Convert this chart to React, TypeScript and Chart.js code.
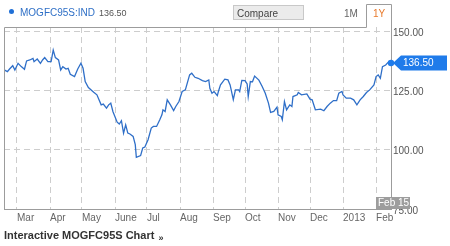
import React, { useEffect, useRef } from "react";
import { Chart, registerables } from "chart.js";

Chart.register(...registerables);

// days since 2012-02-15
const dayOffsets = [
  3, 6, 8, 11, 13, 16, 19, 22, 24, 27, 30, 31, 34, 37, 39, 41, 44, 47, 49, 51,
  54, 56, 58, 61, 63, 65, 69, 72, 75, 77, 79, 82, 87, 90, 94, 96, 99, 101, 103, 105,
  109, 111, 113, 115, 117, 119, 121, 124, 126, 127, 131, 133, 135, 138, 141, 143, 146, 149, 151, 152,
  154, 156, 159, 162, 164, 167, 170, 173, 177, 179, 182, 185, 189, 192, 195, 196, 198, 200, 203, 204,
  206, 210, 213, 215, 218, 220, 223, 224, 226, 229, 231, 232, 234, 236, 238, 242, 245, 248, 251, 253,
  256, 259, 260, 263, 264, 266, 268, 271, 273, 274, 278, 279, 282, 287, 290, 292, 295, 300, 303, 306,
  309, 312, 315, 317, 320, 321, 324, 328, 331, 334, 337, 340, 343, 346, 350, 352, 354, 356, 358, 361,
  364, 366,
];

const values = [
  133.6, 132.9, 134.0, 135.4, 133.6, 136.4, 135.0, 133.9, 137.4, 137.8,
  138.5, 137.1, 138.2, 136.4, 137.8, 138.8, 137.1, 137.1, 142.0, 138.8,
  137.8, 133.6, 135.0, 134.0, 134.3, 131.8, 130.8, 134.0, 136.4, 134.3,
  128.7, 126.2, 124.2, 123.1, 118.9, 119.2, 117.5, 118.9, 119.6, 116.1,
  111.6, 110.8, 112.2, 107.0, 110.5, 107.0, 106.6, 105.6, 102.1, 96.8,
  97.5, 100.7, 101.1, 104.2, 109.1, 109.8, 109.8, 112.6, 114.7, 116.8,
  116.1, 121.0, 118.9, 116.5, 118.2, 120.3, 124.5, 125.2, 131.5, 132.2,
  130.5, 130.1, 129.1, 128.7, 129.4, 125.9, 123.8, 124.5, 122.8, 124.5,
  127.3, 129.7, 129.4, 127.3, 121.1, 125.2, 125.2, 124.5, 129.2, 129.1,
  127.7, 122.4, 128.7, 128.6, 131.0, 129.3, 126.7, 123.8, 119.6, 115.7,
  116.1, 117.9, 114.7, 114.0, 112.6, 120.3, 116.8, 118.9, 118.2, 122.4,
  123.1, 124.1, 123.1, 123.5, 121.3, 121.0, 116.8, 117.1, 116.4, 118.2,
  119.6, 120.7, 120.7, 123.8, 124.5, 123.1, 121.7, 121.7, 121.0, 118.9,
  121.0, 122.4, 124.1, 125.2, 127.3, 130.8, 131.5, 130.1, 135.0, 135.7,
  137.1, 136.5,
];

const monthTickDays = [15, 46, 76, 107, 137, 168, 199, 229, 260, 290, 321, 352];
const monthTickLabels = ["Mar", "Apr", "May", "June", "Jul", "Aug", "Sep", "Oct", "Nov", "Dec", "2013", "Feb"];
const yTickValues = [75, 100, 125, 150];

const tickerName = "MOGFC95S:IND";
const lastValueText = "136.50";
const lastDateText = "Feb 15";
const footerText = "Interactive MOGFC95S Chart";

const FONT = "Arial, 'Liberation Sans', sans-serif";
const LINE_COLOR = "#2f6fc8";
const MARK_COLOR = "#1f7bea";
const GRID_COLOR = "#cdcdcd";
const FRAME_COLOR = "#9c9c9c";

const overlayPlugin = {
  id: "overlay",
  afterDraw(chart: any) {
    const { ctx, chartArea } = chart;
    const { left, top, right, bottom } = chartArea;
    const xs = chart.scales.x;
    const ys = chart.scales.y;
    ctx.save();
    // frame with 1Y tab
    ctx.strokeStyle = FRAME_COLOR;
    ctx.lineWidth = 1;
    ctx.beginPath();
    ctx.moveTo(left + 0.5, bottom);
    ctx.lineTo(left + 0.5, top + 0.5);
    ctx.lineTo(366.5, top + 0.5);
    ctx.lineTo(366.5, 4.5);
    ctx.lineTo(right + 0.5, 4.5);
    ctx.lineTo(right + 0.5, top);
    ctx.stroke();

    // last value arrow label
    const n = values.length;
    const py = ys.getPixelForValue(values[n - 1]);
    const ax = right + 2;
    ctx.fillStyle = MARK_COLOR;
    ctx.beginPath();
    ctx.moveTo(ax, py);
    ctx.lineTo(ax + 8, py - 7.5);
    ctx.lineTo(447, py - 7.5);
    ctx.lineTo(447, py + 7.5);
    ctx.lineTo(ax + 8, py + 7.5);
    ctx.closePath();
    ctx.fill();
    ctx.fillStyle = "#ffffff";
    ctx.font = `10px ${FONT}`;
    ctx.textBaseline = "middle";
    ctx.textAlign = "left";
    ctx.fillText(lastValueText, ax + 10, py + 0.5);

    // last date box
    const px = xs.getPixelForValue(dayOffsets[n - 1]);
    ctx.fillStyle = "#9d9d9d";
    ctx.fillRect(px - 15, bottom - 12, 34, 12);
    ctx.fillStyle = "#ffffff";
    ctx.fillText(lastDateText, px - 13, bottom - 5.5);
    ctx.restore();
  },
};

export default function App() {
  const canvasRef = useRef<HTMLCanvasElement | null>(null);

  useEffect(() => {
    const canvas = canvasRef.current;
    if (!canvas) return;
    const n = values.length;
    const chart = new Chart(canvas, {
      type: "line",
      data: {
        datasets: [
          {
            data: dayOffsets.map((d, i) => ({ x: d, y: values[i] })),
            borderColor: LINE_COLOR,
            borderWidth: 1.3,
            pointRadius: (c: any) => (c.dataIndex === n - 1 ? 3.2 : 0),
            pointBackgroundColor: MARK_COLOR,
            pointBorderWidth: 0,
            tension: 0,
            fill: false,
            clip: false as any,
          },
        ],
      },
      options: {
        animation: false,
        responsive: false,
        maintainAspectRatio: false,
        events: [],
        layout: { padding: { left: 4, top: 27, right: 0, bottom: 0 } },
        plugins: { legend: { display: false }, tooltip: { enabled: false } },
        scales: {
          x: {
            type: "linear",
            min: 2.8,
            max: 366,
            afterBuildTicks: (s: any) => {
              s.ticks = monthTickDays.map((v) => ({ value: v }));
            },
            afterFit: (s: any) => {
              s.height = 37;
            },
            ticks: {
              align: "start",
              padding: 3,
              autoSkip: false,
              maxRotation: 0,
              color: "#666666",
              font: { family: FONT, size: 10 },
              callback: (_v: any, i: number) => monthTickLabels[i],
            },
            grid: { color: GRID_COLOR, lineWidth: 1, drawTicks: false },
            border: { display: true, color: FRAME_COLOR, dash: [6, 4] },
          },
          y: {
            type: "linear",
            position: "right",
            min: 75,
            max: 151.7,
            afterBuildTicks: (s: any) => {
              s.ticks = yTickValues.map((v) => ({ value: v }));
            },
            afterFit: (s: any) => {
              s.width = 59;
            },
            ticks: {
              padding: 2,
              labelOffset: 2,
              color: "#555555",
              font: { family: FONT, size: 10 },
              callback: (v: any) => Number(v).toFixed(2),
            },
            grid: { color: GRID_COLOR, lineWidth: 1, drawTicks: false },
            border: { display: true, color: FRAME_COLOR, dash: [6, 4] },
          },
        },
      } as any,
      plugins: [overlayPlugin],
    });
    return () => chart.destroy();
  }, []);

  const text: React.CSSProperties = {
    position: "absolute",
    fontFamily: FONT,
    fontSize: 10,
    lineHeight: "12px",
    whiteSpace: "nowrap",
  };

  return (
    <div
      style={{
        position: "fixed",
        left: 0,
        top: 0,
        width: 450,
        height: 246,
        background: "#ffffff",
        overflow: "hidden",
      }}
    >
      <canvas ref={canvasRef} width={450} height={246} style={{ position: "absolute", left: 0, top: 0, width: 450, height: 246 }} />
      <div
        style={{
          position: "absolute",
          left: 9,
          top: 9,
          width: 5,
          height: 5,
          borderRadius: "50%",
          background: "#1f6fd6",
        }}
      />
      <div style={{ ...text, left: 20, top: 7, color: "#2e6fc6" }}>{tickerName}</div>
      <div style={{ ...text, left: 99, top: 7, fontSize: 9, color: "#555555" }}>{lastValueText}</div>
      <div
        style={{
          ...text,
          left: 233,
          top: 5,
          width: 71,
          height: 15,
          lineHeight: "15px",
          paddingLeft: 3,
          boxSizing: "border-box",
          background: "#ebebeb",
          border: "1px solid #c8c8c8",
          color: "#444444",
        }}
      >
        Compare
      </div>
      <div style={{ ...text, left: 344, top: 8, color: "#666666" }}>1M</div>
      <div style={{ ...text, left: 373, top: 8, color: "#e87a2c" }}>1Y</div>
      <div style={{ ...text, left: 4, top: 229, fontSize: 11, fontWeight: "bold", color: "#333333" }}>
        {footerText}
        <span style={{ fontSize: 9, marginLeft: 4, position: "relative", top: 2 }}>»</span>
      </div>
    </div>
  );
}
